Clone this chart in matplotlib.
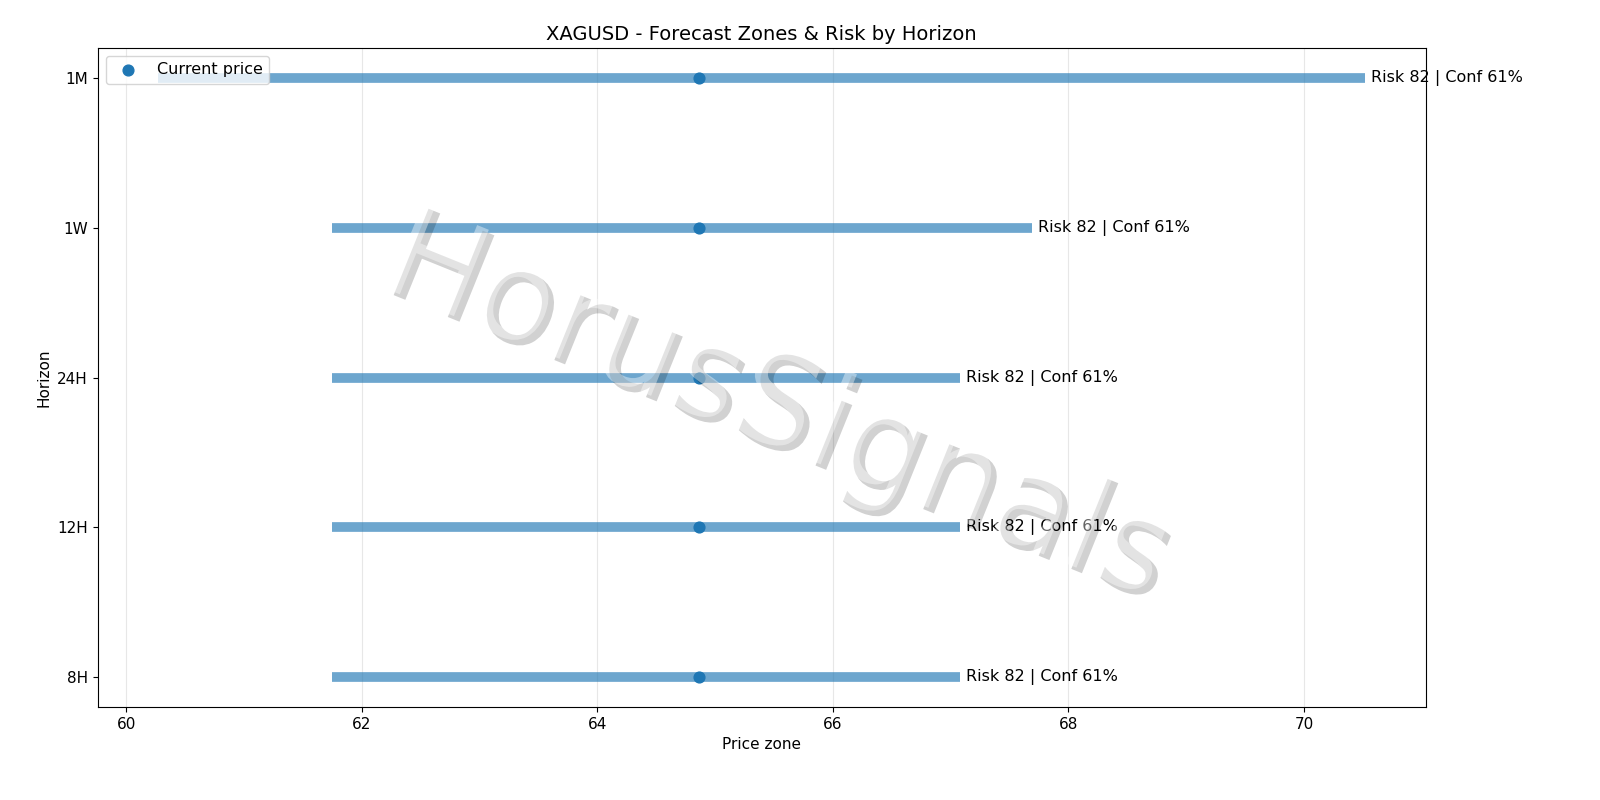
import matplotlib.pyplot as plt
import matplotlib.patheffects as pe

horizons = ['8H', '12H', '24H', '1W', '1M']
zone_low = [61.75, 61.75, 61.75, 61.75, 60.27]
zone_high = [67.08, 67.08, 67.08, 67.69, 70.52]
current = 64.86
risk = [82, 82, 82, 82, 82]
conf = [61, 61, 61, 61, 61]

fig, ax = plt.subplots(figsize=(16, 8), dpi=100)
y = list(range(len(horizons)))

ax.hlines(y, zone_low, zone_high, linewidth=7, color='#1f77b4', alpha=0.65)
ax.scatter([current] * len(y), y, color='#1f77b4', s=60, zorder=3, label='Current price')
for yi, hi, r, c in zip(y, zone_high, risk, conf):
    ax.text(hi + 0.05, yi, f'Risk {r} | Conf {c}%', va='center', fontsize=11.5)

ax.set_yticks(y)
ax.set_yticklabels(horizons)
ax.tick_params(labelsize=11)
ax.grid(axis='x', alpha=0.3)
ax.set_xlabel('Price zone', fontsize=11)
ax.set_ylabel('Horizon', fontsize=11)
ax.set_title('XAGUSD - Forecast Zones & Risk by Horizon', fontsize=14)
ax.legend(loc='upper left', fontsize=11.5)

fig.text(0.485, 0.49, 'HorusSignals', fontsize=92, color='white', alpha=0.4,
         rotation=-22, ha='center', va='center', zorder=5,
         path_effects=[pe.SimplePatchShadow(offset=(4, -4), shadow_rgbFace='black', alpha=0.18),
                       pe.Normal()])

plt.subplots_adjust(left=0.061, right=0.891, top=0.94, bottom=0.116)
plt.savefig('out.png')
